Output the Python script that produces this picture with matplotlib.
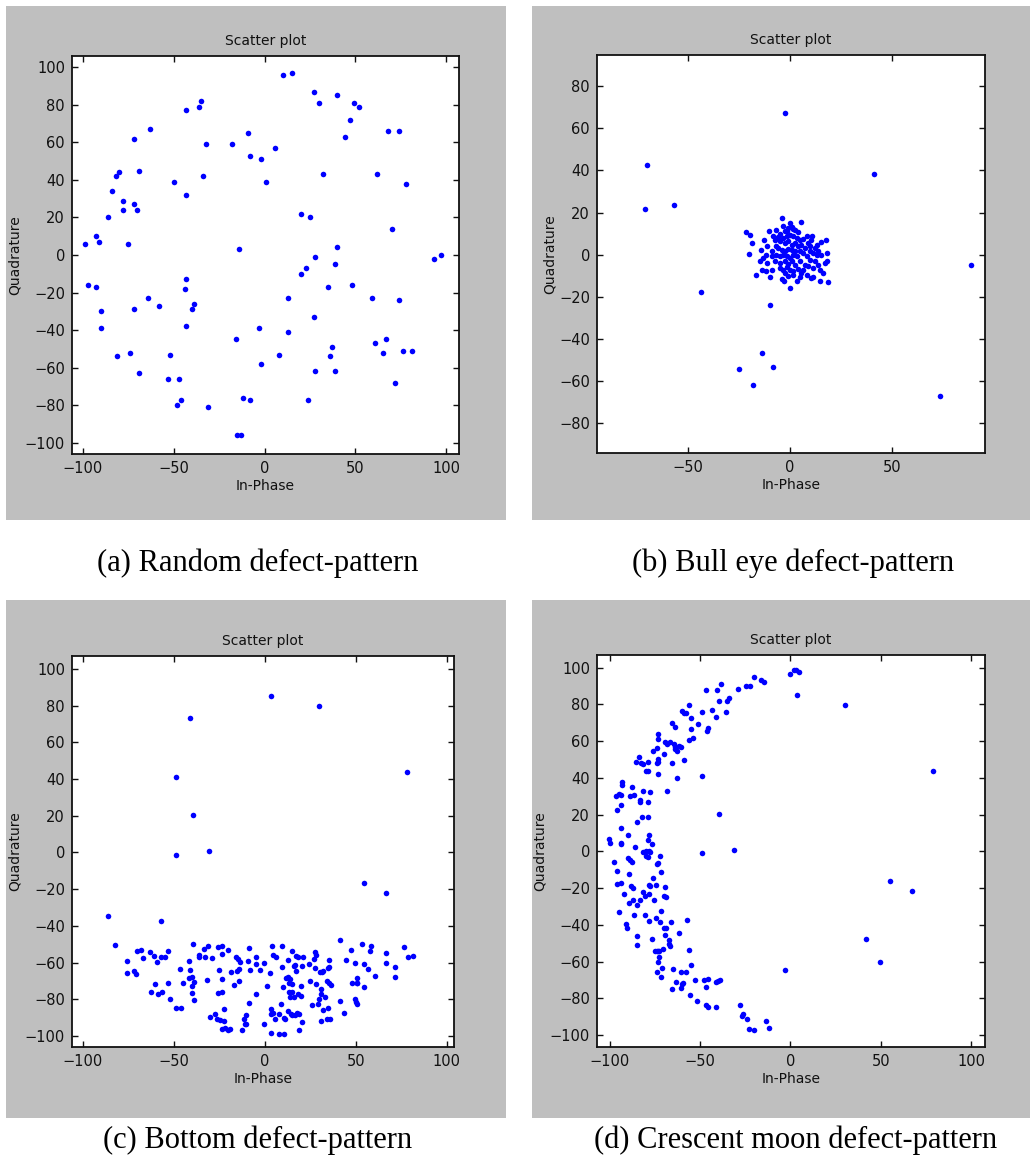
import matplotlib
matplotlib.use("Agg")
import matplotlib.pyplot as plt

# (a) Random defect-pattern
a_x = [-99, -93, -91, -86, -84, -82, -80, -78, -78, -75, -72, -72, -70, -69, -63, -50, -43, -43, -36, -35,
       -34, -32, -18, -14, -9, -8, -2, 1, 6, 10, 15, 20, 25, 27, 28, 30, 32, 40, 40, 44,
       47, 49, 52, 62, 68, 70, 74, 78, 93, 97,
       -97, -93, -90, -90, -81, -74, -72, -69, -64, -58, -52, -53, -47, -46, -48, -44, -43, -43, -40, -39,
       -31, -16, -15, -13, -12, -8, -3, -2, 8, 13, 13, 20, 23, 27, 28, 24, 35, 37, 36, 39,
       39, 48, 59, 61, 65, 67, 72, 74, 76, 81]
a_y = [6, 10, 7, 20, 34, 42, 44, 29, 24, 6, 27, 62, 24, 45, 67, 39, 77, 32, 79, 82,
       42, 59, 59, 3, 65, 53, 51, 39, 57, 96, 97, 22, 20, 87, -1, 81, 43, 4, 85, 63,
       72, 81, 79, 43, 66, 14, 66, 38, -2, 0,
       -16, -17, -30, -39, -54, -52, -29, -63, -23, -27, -53, -66, -66, -77, -80, -18, -13, -38, -29, -26,
       -81, -45, -96, -96, -76, -77, -39, -58, -53, -23, -41, -10, -7, -33, -62, -77, -17, -49, -54, -5,
       -62, -16, -23, -47, -52, -45, -68, -24, -51, -51]

# (b) Bull eye defect-pattern
b_x = [-2.4, -70, -71.1, -56.6, 41.1, 88.4, -43.7, -10.1, -13.7, -25.1, -8.3, -18.3, 73.1,
       -3.9, 5.1, -21.4, -19.7, -18.8, -20.1, -14.4, -14.8, -16.5, -14, -11.9, -11.3, -9.1, -10, -3.8, -2.9,
       -0.2, 3.1, 4.7, 10.4, 11.3, 14.5, 18.6, 16.2, 14.5, 17, 17.8, 17.8, 15.3, 17.3, 10.9, 12.9,
       7.2, 8.8, -13, -10.3, -8.6, -6.7, -3.4, -1, 0.7, 2.3, 3.9, -2.6, -5.1, -7.5, -5.9,
       -11.3, -11.6, -9.1, -7, -5.1, -3.4, -1.8, -0.2, 1.5, 3.1, 4.7, 6.4,
       -2.6, -1, 0.7, 2.3, 3.9, 5.5,
       -5.9, -4.2, -2.6, -1, 0.7, 2.3, 4.7, 6.4, 9.6, 11.3,
       -6.7, -5.1, -3.4, -1.8, -0.2, 1.5, 3.1, 8, 12.9, 15.3,
       -7.5, -5.1, -2.6, -1, 0.7, 2.3, 4.7, 7.2, 9.6, 12.1,
       -5.1, -3.4, -1.8, -0.2, 1.5, 3.9, 6.4, 8.8, 11.3, 13.7,
       -2.6, -1, 1.5, 5.5, 8, -9.1, -13.2, 9.6, 12.1, 13.7, 10.4, 8, -1.8, -0.2, 1.5]
b_y = [67.2, 42.6, 21.7, 23.5, 38.5, -5.1, -17.9, -23.8, -46.9, -54.5, -53.4, -62.1, -67.4,
       17.3, 15.5, 10.6, 9.2, 5.5, 0.5, 2.4, -3.2, -9.5, -7.1, -7.6, -4, -7.1, -10.6, -11.6, -12.7,
       -15.8, -12.4, -10.6, -11.1, -10.6, -12.7, -13, -8.7, -7.1, -4, -3.2, 0.8, 5.9, 7.1, 9, 4.8,
       3.2, 5.5, 7.1, 11.3, 9, 11.6, 13.5, 12.7, 13.2, 11.9, 10.6, 11.1, 10, 7.1, 8.4,
       4, 0, 1.6, 4, 6.3, 7.9, 8.7, 9.5, 8.7, 7.9, 7.1, 7.4,
       5.5, 6.3, 4.8, 5.5, 4, 4.8,
       3.2, 2.4, 1.6, 2.7, 2.4, 1.6, 1.6, 0.8, 1.6, 0.8,
       0, -0.8, 0, -0.8, -1.6, 0, -0.8, -0.8, 0, 0,
       -3.2, -4, -3.2, -4.3, -3.2, -4.8, -3.2, -4.8, -2.4, -3.2,
       -6.3, -7.1, -5.9, -7.1, -7.9, -6.8, -7.1, -5.5, -6.3, -4.8,
       -8.7, -10, -9.5, -8.7, -9.5, -0.8, -1.6, 4, 3.2, 1.6, 7.1, 8.7, 11.1, 15.1, 12.2]

# (c) Bottom defect-pattern
c_x = [-41.2, -48.7, -39.6, -48.7, -30.6, 3.5, 29.7, 78, 54.6, 66.8, -86.1, -56.8, -82.1,
       -75.6, -75.6, -72, -70.9, -70.1, -68.3, -67, -63, -60.8, -59.2, -57.1, -54.6, -53.1, -46.9,
       -62.8, -60.6, -58.6, -56.4, -53.3, -52, -48.7, -46.2, -44.9, -41.6, -41.4, -41.6,
       -40.1, -39.2, -39.9, -40.1, -38.8, -39.7, -36.4, -36.3, -33.5, -31.5, -33, -29.3, -31.7,
       -29.9, -27.5, -26.2, -24.7, -25.8, -23.8, -23.8, -25.1, -26, -23.8, -23.3, -22.2, -22.5,
       -23.3, -21.8, -20.3, -18.9, -20, -18.7, -16.7, -15.6, -14.7, -13.6, -15.4, -14.3, -14.3,
       -12.6, -11.7, -10.4, -11, -10.1, -8.8, -8.8, -9, -8.2, -5.1, -4.8, -2.9, -4.9, -0.4, -0.4,
       1.1, 2.7, 3.5, 3.3, 4.6, 4.2, 4.4, 5.9, 3.5, 5.5, 7.7, 7.7, 8.8, 9.2, 9.7, 9.9, 10.3,
       10.3, 11, 11.4, 12.5, 13.9, 13.2, 12.6, 13.4, 15, 13.7, 15.8, 13, 14.3, 15, 14.8, 14.8,
       15.8, 16.7, 17, 17.4, 18.3, 18.7, 17.9, 18.9, 16.8, 18.3, 20.1, 19.8, 20.3, 21.1, 20.7,
       24.5, 24.9, 25.8, 27.1, 27.7, 28.4, 27.7, 28, 29.3, 29.9, 30.8, 30.2, 31.3, 32.1, 31.1,
       30.8, 31.9, 33, 34.4, 35.9, 34.8, 34.8, 35.2, 35.3, 34.2, 35.5, 36.3, 41.4, 41.2, 43.6,
       44.7, 47.3, 48.2, 50.5, 49.5, 49.5, 50.2, 50.9, 50.7, 50.9, 53.3, 54.6, 54.6, 57.7, 58.4,
       56.9, 60.4, 66.7, 66.8, 71.4, 71.4, 76.6, 78.8, 81.3]
c_y = [73.3, 41.3, 20.2, -1.3, 0.7, 85.1, 79.8, 43.8, -16.5, -22.3, -34.7, -37.4, -50.5,
       -59, -65.5, -64.6, -66.1, -53.9, -53, -57.7, -54.1, -56.4, -59.7, -57.2, -57.2, -53.7, -63.5,
       -76, -71.5, -77.3, -76, -71.3, -79.9, -84.9, -84.9, -71.3, -59.2, -63.9, -68.6,
       -68.1, -70.6, -73, -76.6, -80.6, -49.9, -56.1, -57, -52.6, -51, -57.2, -57.7, -69.3,
       -89.5, -87.8, -90.6, -91.1, -51.4, -51, -55.2, -64.1, -76.6, -76, -69.1, -85.1, -91.6,
       -96.2, -95.8, -96.9, -96.2, -53.4, -65, -72, -57.2, -58.3, -59.9, -64.8, -63.5, -70.1,
       -96.9, -90.9, -88.6, -93.6, -93.3, -81.9, -51.9, -59, -64.2, -57, -61, -64.2, -77.1, -60.3, -93.5,
       -72.6, -65.5, -85.1, -87.8, -87.3, -51, -55.7, -57.2, -98.4, -90.9, -98.7, -87.8, -82.4, -51, -62.3, -73.1, -98.7,
       -90, -90.9, -68.6, -68.1, -69, -71.2, -58.8, -76.2, -76.2, -79, -79, -86.4, -87.8, -88.7, -53.5, -71.5,
       -62.1, -61.5, -64.8, -56.2, -57.2, -96.9, -87.5, -87.8, -88.7, -77.3, -78.4, -72.6, -92.2, -57, -61.9,
       -61, -70.2, -82.9, -57.9, -54.3, -55.7, -62.8, -71.9, -82.8, -79.9, -77.3, -65.3, -65.3, -64.6, -74.4,
       -91.6, -85.7, -78.8, -90.9, -90.6, -84.9, -63, -62.4, -58.8, -70.1, -71, -72.4, -47.7, -81.1, -87.7,
       -58.8, -53.2, -71, -71.1, -60.3, -80, -81.5, -82.8, -68.6, -71.1, -49.9, -73.1, -61, -53.7, -51.2,
       -63.5, -67.3, -60.3, -55, -62.3, -68.1, -51.7, -57, -56.3]

# (d) Crescent moon defect-pattern
d_x = [-0.4, 1.8, 3.3, 4.6, 3.7, -20.3, -16.1, -14.9, -24.4, -22.3, -28.8, -38.6, -40.8, -46.5,
       -39.7, -34.9, -34.1, -35.9, -41.3, -43.2, -45.6, -46.3, -49.1, -49.1, -51.3, -53.7, -55.2, -56.3,
       -56.3, -55, -58.9, -60.1, -57.9, -60.3, -58.9, -61.4, -62.5, -63.7, -64, -64.6, -63.7, -65.5,
       -62.9, -68.3, -66.8, -68.3, -69.4, -65.5, -70.1, -73.2, -73.1, -73.8, -73.2, -73.8, -73.1, -73.4,
       -76, -78.6, -80.1, -78.6, -77.5, -78.8, -78.6, -78, -76.8, -78.8, -81.4, -82.7, -81.5, -83.9,
       -85.4, -82.1, -84.7, -83.2, -83, -87.5, -88.6, -86.5, -86, -89.9, -93.2, -93, -93.5, -94.8,
       -96.3, -93.9, -95.9, -93.9, -93.9, -93.5, -100.2, -100, -81.5, -80, -78.5, -77.5,
       -49.1, -39.7, -31, 30.1, 78.6, 54.8, 67, 41.9, 49.6, -3,
       -79.7, -78.8, -72.3, -73.4, -71.4, -97.8, -95.9, -95.9, -93.5, -89.7, -88.6, -87.8, -89.3,
       -88.4, -87.1, -92.1, -94.8, -91.1, -90.4, -89.3, -87.1, -86.7, -84.7, -83.2, -84.7, -84.7,
       -81.4, -80.3, -80.6, -78, -78, -77.5, -78.2, -76.8, -76.2, -75.3, -74.2, -74.2, -73.6,
       -75.1, -73.8, -73.1, -72.7, -72.7, -73.4, -74, -71.6, -72.1, -71.8, -70.8, -70.3, -70.1, -69,
       -69.7, -68.6, -69.4, -69.4, -67.2, -67.2, -66.8, -66.2, -65.5, -64.8, -63.3, -61.4, -60.7,
       -60.1, -59.4, -60.3, -57.9, -57, -56.3, -55.5, -54.8, -53, -51.8, -48, -45.8, -46.7, -46.5,
       -45.6, -41.3, -41, -39.9, -38.9, -27.9, -26.8, -26, -24, -23.2, -20.1, -13.7, -11.6]
d_y = [96.4, 98.9, 98.7, 97.6, 85.1, 94.9, 93.3, 92.4, 90.2, 90.2, 88.4, 91.1, 87.9, 87.9,
       81.9, 81.9, 83.7, 76.1, 73.4, 76.8, 67, 65.8, 76.1, 40.8, 69.4, 61.6, 72.8, 79.9,
       60.7, 66.8, 75.2, 76.3, 75.2, 57.1, 49.5, 57.4, 54.7, 55.6, 56.9, 58.3, 67.6, 69.7,
       40.2, 33, 59.6, 58.5, 59.8, 48.4, 52.9, 63.8, 61.2, 56.2, 50.5, 48, 48.9, 42.2,
       54.5, 48.7, 43.7, 43.7, 32.6, 27, 19, 9.2, 4.2, 6, 47.6, 48, 33, 51.6,
       48.6, 18.5, 15.8, 27.9, 26.8, 35, 30.3, 30.6, 2.2, 9.2, 36.1, 38, 30.8, 31.3,
       30.3, 25.5, 22.3, 12.7, 4.5, 3.8, 6.9, 4.5, -0.3, 0.5, 0, -0.5,
       -1.1, 20.3, 0.7, 79.9, 44, -16.3, -21.6, -47.6, -60, -64.4,
       -2.4, -3.1, -2.7, -6.5, -11.1, -5.8, -10.4, -17.6, -17.1, -3.6, -4.9, -5.5, -12.4,
       -18.7, -19.8, -23.3, -32.7, -39.6, -41.5, -27.8, -26.4, -34.5, -29.3, -26.2, -45.8, -51.1,
       -21.8, -24.2, -34.5, -23.3, -18.2, -18.7, -38, -47.8, -14.5, -26.2, -18.2, -36, -6.7,
       -54.2, -54.2, -54.4, -54.2, -57.5, -60, -65.6, -68.2, -38.2, -32.2, -63.6, -53.3, -41.5, -41.5,
       -24.2, -24.9, -19.6, -45.5, -48.4, -50.5, -51.5, -38.5, -74.7, -64, -70.9, -44.5, -74.2,
       -72.2, -71.8, -65.6, -65.6, -37.5, -53.6, -78.2, -61.6, -70.2, -81.3, -70.2, -69.6, -73.6, -83.8,
       -84.5, -84.5, -71.3, -70.5, -70, -83.8, -89.3, -88.5, -91.3, -96.4, -97.1, -92.4, -95.8]

captions = ["(a) Random defect-pattern", "(b) Bull eye defect-pattern",
            "(c) Bottom defect-pattern", "(d) Crescent moon defect-pattern"]

W, H = 1033, 1159
fig = plt.figure(figsize=(W / 100, H / 100), dpi=100)


def frac(l, t, r, b):
    # pixel box (top-left origin) -> figure fraction
    return [l / W, 1 - b / H, (r - l) / W, (b - t) / H]


panels = [
    # data, gray box, axes box, limits, ticks, caption position
    (a_x, a_y, (6, 6, 506, 520), (72, 56, 459, 454), (-106, 107), (-106, 106),
     [-100, -50, 0, 50, 100], list(range(-100, 101, 20)), (258, 563)),
    (b_x, b_y, (532, 6, 1030, 520), (597, 55, 985, 453), (-94.5, 95.3), (-94.3, 94.9),
     [-50, 0, 50], list(range(-80, 81, 20)), (793, 563)),
    (c_x, c_y, (6, 600, 506, 1118), (72, 656, 454, 1047), (-106, 104), (-106, 107),
     [-100, -50, 0, 50, 100], list(range(-100, 101, 20)), (258, 1140)),
    (d_x, d_y, (532, 600, 1030, 1118), (597, 655, 985, 1047), (-107, 107.6), (-106.4, 106.9),
     [-100, -50, 0, 50, 100], list(range(-100, 101, 20)), (796, 1140)),
]

for i, (xs, ys, gbox, abox, xl, yl, xt, yt, cpos) in enumerate(panels):
    bg = fig.add_axes(frac(*gbox))
    bg.set_facecolor("#bfbfbf")
    bg.set_xticks([])
    bg.set_yticks([])
    for s in bg.spines.values():
        s.set_visible(False)

    ax = fig.add_axes(frac(*abox))
    ax.plot(xs, ys, "o", color="#0000ff", markersize=4.0, markeredgewidth=0)
    ax.set_xlim(*xl)
    ax.set_ylim(*yl)
    ax.set_xticks(xt)
    ax.set_yticks(yt)
    ax.tick_params(direction="in", length=4, width=1, top=True, right=True,
                   labelsize=10.5, colors="#111111", pad=5)
    for s in ax.spines.values():
        s.set_linewidth(1.3)
        s.set_color("#111111")
    ax.set_title("Scatter plot", fontsize=10, color="#111111", pad=8)
    ax.set_xlabel("In-Phase", fontsize=10, color="#111111", labelpad=2)
    ax.set_ylabel("Quadrature", fontsize=10, color="#111111", labelpad=2)

    fig.text(cpos[0] / W, 1 - cpos[1] / H, captions[i], family="Liberation Serif",
             fontsize=22, ha="center", va="center", color="black")

fig.savefig("out.png", dpi=100)
